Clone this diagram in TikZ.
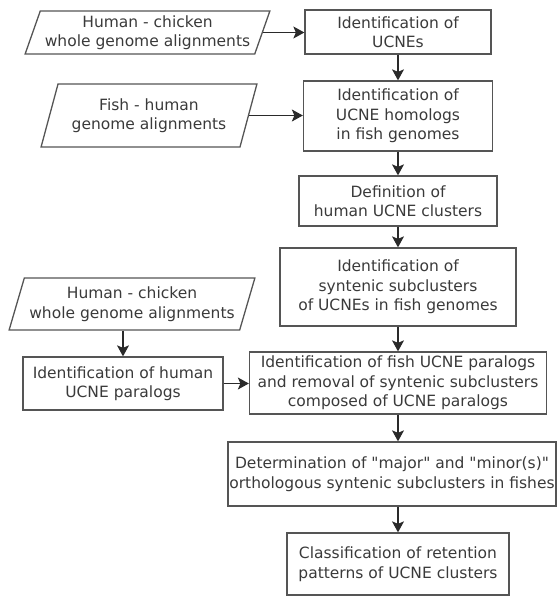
\documentclass[tikz,border=0pt]{standalone}
\usepackage{fontspec}
\setmainfont{DejaVu Sans}
\usetikzlibrary{shapes.geometric, arrows.meta}
\definecolor{boxline}{HTML}{555555}
\definecolor{boxtext}{HTML}{3A3A3A}
\definecolor{arrowline}{HTML}{2A2A2A}

\begin{document}
\begin{tikzpicture}[x=1pt, y=-1pt,
  procbox/.style={draw=boxline, line width=1.3pt, text=boxtext, align=center, inner sep=2pt,
    font=\fontsize{15.5}{19.5}\selectfont},
  databox/.style={procbox, trapezium, trapezium left angle=69, trapezium right angle=111,
    trapezium stretches=true},
  flow/.style={arrowline, line width=1.2pt, -{Stealth[length=11pt, width=12pt, inset=2.5pt]}}]
\useasboundingbox (0,0) rectangle (556,596);
\node[databox, minimum width=245, minimum height=43] (in1) at (147.5, 32.5) {Human - chicken\\whole genome alignments};
\node[databox, minimum width=216, minimum height=63] (in2) at (149, 115.5) {Fish - human\\genome alignments};
\node[databox, minimum width=246, minimum height=52] (in3) at (132, 304) {Human - chicken\\whole genome alignments};
\node[procbox, minimum width=186, minimum height=44] (b1) at (398, 32) {Identification of\\UCNEs};
\node[procbox, minimum width=189, minimum height=70] (b2) at (398, 116) {Identification of\\UCNE homologs\\in fish genomes};
\node[procbox, minimum width=198, minimum height=50] (b3) at (398, 201) {Definition of\\human UCNE clusters};
\node[procbox, minimum width=236, minimum height=78] (b4) at (398, 287) {Identification of\\syntenic subclusters\\of UCNEs in fish genomes};
\node[procbox, minimum width=200, minimum height=53] (b5) at (123, 383.5) {Identification of human\\UCNE paralogs};
\node[procbox, minimum width=297, minimum height=62] (b6) at (398, 383) {Identification of fish UCNE paralogs\\and removal of syntenic subclusters\\composed of UCNE paralogs};
\node[procbox, minimum width=328, minimum height=64, inner xsep=0pt] (b7) at (392, 474) {Determination of \textquotedbl major\textquotedbl{} and \textquotedbl minor(s)\textquotedbl\\orthologous syntenic subclusters in fishes};
\node[procbox, minimum width=222, minimum height=62] (b8) at (398, 564) {Classification of retention\\patterns of UCNE clusters};
\draw[flow] (in1.east) -- (in1.east -| b1.west);
\draw[flow] (in2.east) -- (in2.east -| b2.west);
\draw[flow] (b1.south) -- (b2.north);
\draw[flow] (b2.south) -- (b3.north);
\draw[flow] (b3.south) -- (b4.north);
\draw[flow] (b4.south) -- (b6.north);
\draw[flow] (b5.north |- in3.south) -- (b5.north);
\draw[flow] (b5.east) -- (b5.east -| b6.west);
\draw[flow] (b6.south) -- (b6.south |- b7.north);
\draw[flow] (b8.north |- b7.south) -- (b8.north);
\end{tikzpicture}
\end{document}
